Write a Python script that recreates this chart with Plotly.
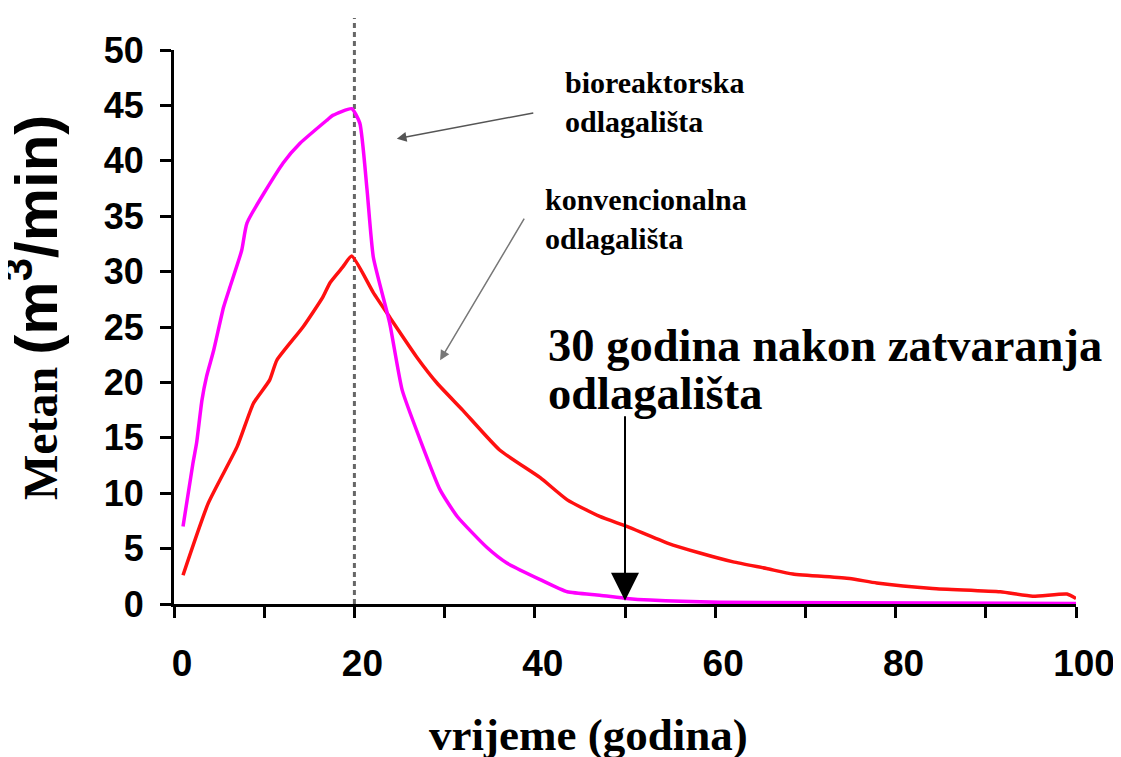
import plotly.graph_objects as go

# --- data ---
bio_x = [1.0, 2.1, 2.5, 3.1, 3.6, 4.4, 5.5, 6.2, 7.5, 8.1, 12.1, 14.0, 17.0, 17.6, 19.7,
         20.6, 21.4, 22.1, 23.9, 25.3, 27.3, 29.5, 31.4, 34.7, 36.9, 40.6, 43.6,
         47.2, 50.2, 52.8, 60.5, 100.0]
bio_y = [7.0, 12.7, 14.5, 18.4, 20.5, 22.9, 26.8, 28.6, 31.9, 34.4, 39.8, 41.6, 43.7, 44.1, 44.7,
         43.4, 37.4, 31.3, 25.4, 19.3, 14.8, 10.3, 7.9, 5.1, 3.7, 2.2, 1.1,
         0.8, 0.5, 0.35, 0.15, 0.05]

conv_x = [1.0, 3.8, 7.0, 8.8, 10.6, 11.4, 14.3, 16.5, 17.3, 18.7, 19.7, 22.1, 23.9,
          26.9, 29.2, 32.0, 36.1, 40.6, 43.6, 47.2, 50.2, 54.7, 58.3, 62.0, 65.7,
          68.6, 74.9, 77.9, 84.1, 91.6, 95.2, 99.0, 100.0]
conv_y = [2.6, 9.1, 14.2, 18.1, 20.2, 22.0, 25.0, 27.7, 29.0, 30.4, 31.4, 28.1, 25.9,
          22.3, 19.9, 17.5, 13.9, 11.4, 9.4, 7.9, 7.0, 5.5, 4.6, 3.8, 3.2,
          2.7, 2.3, 1.9, 1.4, 1.1, 0.7, 0.9, 0.5]

x_ticks = [0, 10, 20, 30, 40, 50, 60, 70, 80, 90, 100]
x_labels = ["0", "", "20", "", "40", "", "60", "", "80", "", "100"]
y_ticks = [0, 5, 10, 15, 20, 25, 30, 35, 40, 45, 50]

peak_year = 20
closure_year = 50

# --- layout geometry (screen pixels; page body adds an 8px offset) ---
OFF = 8
W, H = 1121 - OFF, 757 - OFF
X0, X1, Y0, Y1 = 174, 1076, 50, 604          # plot area in screenshot pixels
L, R, T, B = X0 - OFF, W - (X1 - OFF), Y0 - OFF, H - (Y1 - OFF)
PW, PH = X1 - X0, Y1 - Y0


def px(xp):
    return (xp - X0) / PW


def py(yp):
    return (Y1 - yp) / PH


serif = "Liberation Serif, Times New Roman, serif"
sans = "Liberation Sans, Arial, sans-serif"

fig = go.Figure()
fig.add_trace(go.Scatter(x=conv_x, y=conv_y, mode="lines",
                         line=dict(color="#FF1010", width=3.5, shape="spline", smoothing=0.5),
                         cliponaxis=False, name="konvencionalna"))
fig.add_trace(go.Scatter(x=bio_x, y=bio_y, mode="lines",
                         line=dict(color="#FF00FF", width=3.5, shape="spline", smoothing=0.5),
                         cliponaxis=False, name="bioreaktorska"))

fig.add_shape(type="line", xref="x", yref="paper", x0=peak_year, x1=peak_year,
              y0=0, y1=py(18), line=dict(color="#666666", width=3, dash="5px,4px"),
              layer="below")

ann = []


def text(s, xp, yp, size, anchor="left"):
    ann.append(dict(text=s, xref="paper", yref="paper", x=px(xp), y=py(yp),
                    xanchor=anchor, yanchor="middle", showarrow=False,
                    font=dict(family=serif, size=size, color="black")))


text("<b>bioreaktorska</b>", 563, 83, 30)
text("<b>odlagališta</b>", 563, 122, 30)
text("<b>konvencionalna</b>", 543, 199, 30)
text("<b>odlagališta</b>", 543, 238, 30)
text("<b>30 godina nakon zatvaranja</b>", 546, 345, 46.5)
text("<b>odlagališta</b>", 546, 393, 46.5)

# arrows
ann.append(dict(x=24.7, y=42.0, ax=138, ay=-26, xref="x", yref="y", axref="pixel", ayref="pixel",
                showarrow=True, arrowhead=2, arrowsize=1.3, arrowwidth=1.5,
                arrowcolor="#555555", text=""))
ann.append(dict(x=29.5, y=22.0, ax=85, ay=-143, xref="x", yref="y", axref="pixel", ayref="pixel",
                showarrow=True, arrowhead=2, arrowsize=1.3, arrowwidth=1.5,
                arrowcolor="#777777", text=""))
ann.append(dict(x=closure_year, y=0.3, ax=0, ay=-186, xref="x", yref="y", axref="pixel", ayref="pixel",
                showarrow=True, arrowhead=2, arrowsize=2.8, arrowwidth=2,
                arrowcolor="black", text=""))

# axis titles
ann.append(dict(text="<b>vrijeme (godina)</b>", xref="paper", yref="paper",
                x=px(588), y=py(735), xanchor="center", yanchor="middle", showarrow=False,
                font=dict(family=serif, size=45, color="black")))
ann.append(dict(text="<b>Metan <span style='font-family:Liberation Sans, Arial; font-size:60px'>(m<sup>3</sup>/min)</span></b>",
                xref="paper", yref="paper", x=px(32), y=py(308), xanchor="center", yanchor="middle",
                textangle=-90, showarrow=False,
                font=dict(family=serif, size=48, color="black")))

fig.update_layout(
    width=W, height=H,
    margin=dict(l=L, r=R, t=T, b=B, pad=0, autoexpand=False),
    paper_bgcolor="white", plot_bgcolor="white",
    showlegend=False,
    annotations=ann,
    xaxis=dict(range=[0, 100], tickvals=x_ticks, ticktext=x_labels, automargin=False,
               showgrid=False, zeroline=False, showline=True, linecolor="black", linewidth=3,
               ticks="outside", ticklen=11, tickwidth=3, tickcolor="black",
               tickfont=dict(family=sans, size=37, color="black", weight="bold"),
               ticklabelstandoff=14, ticklabelshift=8),
    yaxis=dict(range=[0, 50], tickvals=y_ticks, automargin=False,
               showgrid=False, zeroline=False, showline=True, linecolor="black", linewidth=3,
               ticks="outside", ticklen=11, tickwidth=3, tickcolor="black",
               tickfont=dict(family=sans, size=36, color="black", weight="bold"),
               ticklabelstandoff=9),
)

fig.write_html("out.html")
